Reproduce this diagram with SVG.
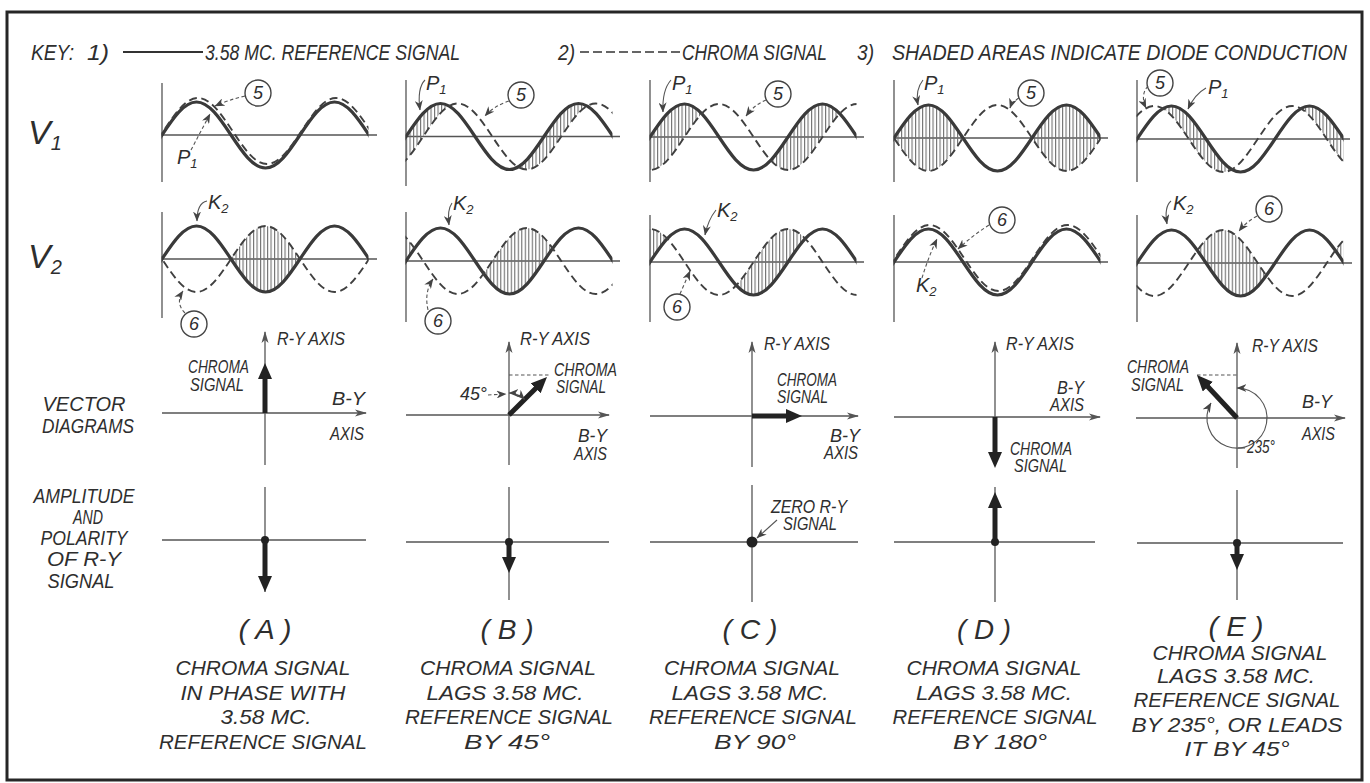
<svg xmlns="http://www.w3.org/2000/svg" width="1370" height="783" viewBox="0 0 1370 783">
<style>
text{font-family:"Liberation Sans Narrow","Liberation Sans",Arial,sans-serif;font-style:italic;fill:#2e2e2e}
.k{font-size:22px}
.lb{font-size:18px}
.bt{font-size:21px}
.par{font-size:28px}
.big{font-size:34px}
.lab{font-size:20px}
.num{font-size:18px;text-anchor:middle}
.ax{stroke:#555;stroke-width:1.3;fill:none}
.sol{stroke:#3a3a3a;stroke-width:3.2;fill:none}
.dsh{stroke:#404040;stroke-width:1.9;fill:none;stroke-dasharray:8 4.5}
.ld{stroke:#555;stroke-width:1.1;fill:none;stroke-dasharray:3.5 2.5}
.lds{stroke:#555;stroke-width:1.1;fill:none}
.cir{stroke:#444;stroke-width:1.4;fill:#fff}
.thk{stroke:#222;stroke-width:5;fill:none}
.hat{fill:url(#h)}
.m{text-anchor:middle}
</style>
<defs>
<path id="w" d="M-138,0 c11.25,-16.9 22.01,-33 34.5,-33 c12.49,0 23.25,16.1 34.5,33 c11.25,16.9 22.01,33 34.5,33 c12.49,0 23.25,-16.1 34.5,-33 c11.25,-16.9 22.01,-33 34.5,-33 c12.49,0 23.25,16.1 34.5,33 c11.25,16.9 22.01,33 34.5,33 c12.49,0 23.25,-16.1 34.5,-33 c11.25,-16.9 22.01,-33 34.5,-33 c12.49,0 23.25,16.1 34.5,33 c11.25,16.9 22.01,33 34.5,33 c12.49,0 23.25,-16.1 34.5,-33 c11.25,-16.9 22.01,-33 34.5,-33 c12.49,0 23.25,16.1 34.5,33"/>
<path id="wa" d="M-138,0 c11.25,-16.9 22.01,-33 34.5,-33 c12.49,0 23.25,16.1 34.5,33 c11.25,16.9 22.01,33 34.5,33 c12.49,0 23.25,-16.1 34.5,-33 c11.25,-16.9 22.01,-33 34.5,-33 c12.49,0 23.25,16.1 34.5,33 c11.25,16.9 22.01,33 34.5,33 c12.49,0 23.25,-16.1 34.5,-33 c11.25,-16.9 22.01,-33 34.5,-33 c12.49,0 23.25,16.1 34.5,33 c11.25,16.9 22.01,33 34.5,33 c12.49,0 23.25,-16.1 34.5,-33 c11.25,-16.9 22.01,-33 34.5,-33 c12.49,0 23.25,16.1 34.5,33 L345,-150 L-138,-150 Z"/>
<path id="wb" d="M-138,0 c11.25,-16.9 22.01,-33 34.5,-33 c12.49,0 23.25,16.1 34.5,33 c11.25,16.9 22.01,33 34.5,33 c12.49,0 23.25,-16.1 34.5,-33 c11.25,-16.9 22.01,-33 34.5,-33 c12.49,0 23.25,16.1 34.5,33 c11.25,16.9 22.01,33 34.5,33 c12.49,0 23.25,-16.1 34.5,-33 c11.25,-16.9 22.01,-33 34.5,-33 c12.49,0 23.25,16.1 34.5,33 c11.25,16.9 22.01,33 34.5,33 c12.49,0 23.25,-16.1 34.5,-33 c11.25,-16.9 22.01,-33 34.5,-33 c12.49,0 23.25,16.1 34.5,33 L345,150 L-138,150 Z"/>
<pattern id="h" width="3.5" height="20" patternUnits="userSpaceOnUse"><rect x="0" y="0" width="1.1" height="20" fill="#6f6f6f"/></pattern>
<marker id="la" viewBox="0 0 10 8" refX="9.5" refY="4" markerWidth="10" markerHeight="8" markerUnits="userSpaceOnUse" orient="auto"><path d="M0,0 L10,4 L0,8 L3,4 Z" fill="#444"/></marker>
<marker id="la2" viewBox="0 0 10 8" refX="9.5" refY="4" markerWidth="10" markerHeight="8" markerUnits="userSpaceOnUse" orient="auto-start-reverse"><path d="M0,0 L10,4 L0,8 L3,4 Z" fill="#444"/></marker>
<marker id="xa" viewBox="0 0 12 8" refX="11" refY="4" markerWidth="12" markerHeight="8" markerUnits="userSpaceOnUse" orient="auto"><path d="M0,0.5 L12,4 L0,7.5 L3,4 Z" fill="#555"/></marker>
<marker id="ta" viewBox="0 0 16 14" refX="2" refY="7" markerWidth="16" markerHeight="14" markerUnits="userSpaceOnUse" orient="auto"><path d="M0,0 L16,7 L0,14 Z" fill="#222"/></marker>
<clipPath id="cA"><rect x="161.5" y="70" width="207" height="260"/></clipPath>
<clipPath id="cB"><rect x="405.5" y="70" width="207" height="260"/></clipPath>
<clipPath id="cC"><rect x="649.5" y="70" width="207" height="260"/></clipPath>
<clipPath id="cD"><rect x="893.5" y="70" width="207" height="260"/></clipPath>
<clipPath id="cE"><rect x="1136.5" y="70" width="207" height="260"/></clipPath>
<clipPath id="b1"><use href="#wa" transform="translate(423.25,136.5)"/></clipPath>
<clipPath id="c1"><use href="#wa" transform="translate(684.5,137)"/></clipPath>
<clipPath id="d1"><use href="#wa" transform="translate(963,138)"/></clipPath>
<clipPath id="e1"><use href="#wa" transform="translate(1119.75,139)"/></clipPath>
<clipPath id="a2"><use href="#wa" transform="translate(162,259)"/></clipPath>
<clipPath id="b2"><use href="#wa" transform="translate(406,261)"/></clipPath>
<clipPath id="c2"><use href="#wa" transform="translate(650,262)"/></clipPath>
<clipPath id="e2"><use href="#wa" transform="translate(1137,263)"/></clipPath>
</defs>
<rect width="1370" height="783" fill="#fff"/>
<rect x="7" y="12" width="1355" height="768" fill="none" stroke="#262626" stroke-width="3"/>

<g id="key">
<text class="k" x="31" y="60" textLength="43" lengthAdjust="spacingAndGlyphs">KEY:</text>
<text class="k" x="87" y="60" textLength="22" lengthAdjust="spacingAndGlyphs">1)</text>
<line x1="123" y1="52" x2="203" y2="52" stroke="#333" stroke-width="2"/>
<text class="k" x="205" y="60" textLength="255" lengthAdjust="spacingAndGlyphs">3.58 MC. REFERENCE  SIGNAL</text>
<text class="k" x="558" y="60" textLength="17" lengthAdjust="spacingAndGlyphs">2)</text>
<line x1="580" y1="52" x2="680" y2="52" stroke="#333" stroke-width="1.7" stroke-dasharray="9 4"/>
<text class="k" x="682" y="60" textLength="145" lengthAdjust="spacingAndGlyphs">CHROMA  SIGNAL</text>
<text class="k" x="857" y="60" textLength="17" lengthAdjust="spacingAndGlyphs">3)</text>
<text class="k" x="892" y="60" textLength="455" lengthAdjust="spacingAndGlyphs">SHADED  AREAS  INDICATE  DIODE  CONDUCTION</text>
</g>

<g id="rowlabels">
<text class="big" x="28" y="144">V<tspan font-size="20" dy="6">1</tspan></text>
<text class="big" x="28" y="268">V<tspan font-size="20" dy="6">2</tspan></text>
<text class="bt m" x="84" y="411" textLength="83" lengthAdjust="spacingAndGlyphs">VECTOR</text>
<text class="bt m" x="88" y="433" textLength="92" lengthAdjust="spacingAndGlyphs">DIAGRAMS</text>
<text class="bt m" x="84" y="503" textLength="101" lengthAdjust="spacingAndGlyphs">AMPLITUDE</text>
<text class="bt m" x="88" y="524" textLength="30" lengthAdjust="spacingAndGlyphs">AND</text>
<text class="bt m" x="84" y="545" textLength="87" lengthAdjust="spacingAndGlyphs">POLARITY</text>
<text class="bt m" x="84" y="566" textLength="74" lengthAdjust="spacingAndGlyphs">OF  R-Y</text>
<text class="bt m" x="81" y="588" textLength="67" lengthAdjust="spacingAndGlyphs">SIGNAL</text>
</g>

<g id="waveA">
<line class="ax" x1="162" y1="83" x2="162" y2="182"/>
<line class="ax" x1="162" y1="135" x2="377" y2="135"/>
<line class="ax" x1="162" y1="212" x2="162" y2="318"/>
<line class="ax" x1="162" y1="259" x2="377" y2="259"/>
<g clip-path="url(#cA)">
<g clip-path="url(#a2)"><use href="#wa" class="hat" transform="translate(162,259) scale(1,-1)"/></g>
<use href="#w" class="sol" transform="translate(162,135)"/>
<use href="#w" class="dsh" transform="translate(163.5,131)"/>
<use href="#w" class="sol" transform="translate(162,259)"/>
<use href="#w" class="dsh" transform="translate(162,259) scale(1,-1)"/>
</g>
<text class="lab" x="177" y="164">P<tspan font-size="13" dy="4">1</tspan></text>
<text class="lab" x="208" y="209">K<tspan font-size="13" dy="4">2</tspan></text>
</g>
<g id="c5A"><circle class="cir" cx="258" cy="93" r="13"/><text class="num" x="258" y="99">5</text></g>
<g id="c6A"><circle class="cir" cx="194" cy="324" r="13"/><text class="num" x="194" y="330">6</text></g>

<g id="waveB">
<line class="ax" x1="406" y1="80" x2="406" y2="186"/>
<line class="ax" x1="406" y1="136.5" x2="620" y2="136.5"/>
<line class="ax" x1="406" y1="212" x2="406" y2="322"/>
<line class="ax" x1="406" y1="261" x2="620" y2="261"/>
<g clip-path="url(#cB)">
<g clip-path="url(#b1)"><use href="#wb" class="hat" transform="translate(406,136.5)"/></g>
<g clip-path="url(#b2)"><use href="#wa" class="hat" transform="translate(423.25,261) scale(1,-1)"/></g>
<use href="#w" class="sol" transform="translate(406,136.5)"/>
<use href="#w" class="dsh" transform="translate(423.25,136.5)"/>
<use href="#w" class="sol" transform="translate(406,261)"/>
<use href="#w" class="dsh" transform="translate(423.25,261) scale(1,-1)"/>
</g>
<text class="lab" x="426" y="90">P<tspan font-size="13" dy="4">1</tspan></text>
<text class="lab" x="453" y="210">K<tspan font-size="13" dy="4">2</tspan></text>
</g>
<g id="c5B"><circle class="cir" cx="521" cy="95" r="13"/><text class="num" x="521" y="101">5</text></g>
<g id="c6B"><circle class="cir" cx="438" cy="321" r="13"/><text class="num" x="438" y="327">6</text></g>

<g id="waveC">
<line class="ax" x1="650" y1="80" x2="650" y2="182"/>
<line class="ax" x1="650" y1="137" x2="864" y2="137"/>
<line class="ax" x1="650" y1="215" x2="650" y2="322"/>
<line class="ax" x1="650" y1="262" x2="864" y2="262"/>
<g clip-path="url(#cC)">
<g clip-path="url(#c1)"><use href="#wb" class="hat" transform="translate(650,137)"/></g>
<g clip-path="url(#c2)"><use href="#wa" class="hat" transform="translate(684.5,262) scale(1,-1)"/></g>
<use href="#w" class="sol" transform="translate(650,137)"/>
<use href="#w" class="dsh" transform="translate(684.5,137)"/>
<use href="#w" class="sol" transform="translate(650,262)"/>
<use href="#w" class="dsh" transform="translate(684.5,262) scale(1,-1)"/>
</g>
<text class="lab" x="672" y="90">P<tspan font-size="13" dy="4">1</tspan></text>
<text class="lab" x="717" y="217">K<tspan font-size="13" dy="4">2</tspan></text>
</g>
<g id="c5C"><circle class="cir" cx="778" cy="94" r="13"/><text class="num" x="778" y="100">5</text></g>
<g id="c6C"><circle class="cir" cx="677" cy="307" r="13"/><text class="num" x="677" y="313">6</text></g>

<g id="waveD">
<line class="ax" x1="894" y1="80" x2="894" y2="182"/>
<line class="ax" x1="894" y1="138" x2="1108" y2="138"/>
<line class="ax" x1="894" y1="215" x2="894" y2="322"/>
<line class="ax" x1="894" y1="262" x2="1108" y2="262"/>
<g clip-path="url(#cD)">
<g clip-path="url(#d1)"><use href="#wb" class="hat" transform="translate(894,138)"/></g>
<use href="#w" class="sol" transform="translate(894,138)"/>
<use href="#w" class="dsh" transform="translate(963,138)"/>
<use href="#w" class="sol" transform="translate(894,262)"/>
<use href="#w" class="dsh" transform="translate(895,258)"/>
</g>
<text class="lab" x="924" y="90">P<tspan font-size="13" dy="4">1</tspan></text>
<text class="lab" x="916" y="292">K<tspan font-size="13" dy="4">2</tspan></text>
</g>
<g id="c5D"><circle class="cir" cx="1031" cy="93" r="13"/><text class="num" x="1031" y="99">5</text></g>
<g id="c6D"><circle class="cir" cx="1002" cy="220" r="13"/><text class="num" x="1002" y="226">6</text></g>

<g id="waveE">
<line class="ax" x1="1137" y1="80" x2="1137" y2="182"/>
<line class="ax" x1="1137" y1="139" x2="1350" y2="139"/>
<line class="ax" x1="1137" y1="215" x2="1137" y2="322"/>
<line class="ax" x1="1137" y1="263" x2="1352" y2="263"/>
<g clip-path="url(#cE)">
<g clip-path="url(#e1)"><use href="#wb" class="hat" transform="translate(1137,139)"/></g>
<g clip-path="url(#e2)"><use href="#wa" class="hat" transform="translate(1119.75,263) scale(1,-1)"/></g>
<use href="#w" class="sol" transform="translate(1137,139)"/>
<use href="#w" class="dsh" transform="translate(1119.75,139)"/>
<use href="#w" class="sol" transform="translate(1137,263)"/>
<use href="#w" class="dsh" transform="translate(1119.75,263) scale(1,-1)"/>
</g>
<text class="lab" x="1208" y="94">P<tspan font-size="13" dy="4">1</tspan></text>
<text class="lab" x="1173" y="210">K<tspan font-size="13" dy="4">2</tspan></text>
</g>
<g id="c5E"><circle class="cir" cx="1160" cy="83" r="13"/><text class="num" x="1160" y="89">5</text></g>
<g id="c6E"><circle class="cir" cx="1269" cy="209" r="13"/><text class="num" x="1269" y="215">6</text></g>

<g id="vecA">
<line class="ax" x1="162" y1="413" x2="366" y2="413" marker-end="url(#xa)"/>
<line class="ax" x1="265" y1="465" x2="265" y2="332" marker-end="url(#xa)"/>
<line class="thk" x1="265" y1="413" x2="265" y2="377" marker-end="url(#ta)"/>
<text class="lb" x="277" y="345" textLength="68" lengthAdjust="spacingAndGlyphs">R-Y AXIS</text>
<text class="lb" x="188" y="373" textLength="61" lengthAdjust="spacingAndGlyphs">CHROMA</text>
<text class="lb" x="190" y="391" textLength="54" lengthAdjust="spacingAndGlyphs">SIGNAL</text>
<text class="lb" x="332" y="405" textLength="33" lengthAdjust="spacingAndGlyphs">B-Y</text>
<text class="lb" x="330" y="440" textLength="34" lengthAdjust="spacingAndGlyphs">AXIS</text>
</g>
<g id="vecB">
<line class="ax" x1="406" y1="415" x2="609" y2="415" marker-end="url(#xa)"/>
<line class="ax" x1="509" y1="465" x2="509" y2="342" marker-end="url(#xa)"/>
<line class="ld" x1="509" y1="375" x2="549" y2="375"/>
<line class="thk" x1="509" y1="415" x2="537.1" y2="386.9" marker-end="url(#ta)"/>
<path class="lds" d="M509,393 A22,22 0 0 1 524.6,399.4" marker-start="url(#la2)" marker-end="url(#la2)"/>
<text class="lb" x="520" y="345" textLength="70" lengthAdjust="spacingAndGlyphs">R-Y AXIS</text>
<text class="lb" x="554" y="376" textLength="63" lengthAdjust="spacingAndGlyphs">CHROMA</text>
<text class="lb" x="556" y="393" textLength="50" lengthAdjust="spacingAndGlyphs">SIGNAL</text>
<text class="lb" x="460" y="400" textLength="27" lengthAdjust="spacingAndGlyphs">45°</text>
<text class="lb" x="578" y="442" textLength="29" lengthAdjust="spacingAndGlyphs">B-Y</text>
<text class="lb" x="574" y="460" textLength="33" lengthAdjust="spacingAndGlyphs">AXIS</text>
</g>
<g id="vecC">
<line class="ax" x1="650" y1="416" x2="858" y2="416" marker-end="url(#xa)"/>
<line class="ax" x1="752" y1="467" x2="752" y2="342" marker-end="url(#xa)"/>
<line class="thk" x1="752" y1="416" x2="788" y2="416" marker-end="url(#ta)"/>
<text class="lb" x="764" y="350" textLength="66" lengthAdjust="spacingAndGlyphs">R-Y AXIS</text>
<text class="lb" x="777" y="386" textLength="60" lengthAdjust="spacingAndGlyphs">CHROMA</text>
<text class="lb" x="777" y="403" textLength="51" lengthAdjust="spacingAndGlyphs">SIGNAL</text>
<text class="lb" x="830" y="442" textLength="30" lengthAdjust="spacingAndGlyphs">B-Y</text>
<text class="lb" x="824" y="459" textLength="34" lengthAdjust="spacingAndGlyphs">AXIS</text>
</g>
<g id="vecD">
<line class="ax" x1="894" y1="417" x2="1100" y2="417" marker-end="url(#xa)"/>
<line class="ax" x1="995" y1="417" x2="995" y2="342" marker-end="url(#xa)"/>
<line class="thk" x1="995" y1="417" x2="995" y2="454" marker-end="url(#ta)"/>
<text class="lb" x="1006" y="350" textLength="68" lengthAdjust="spacingAndGlyphs">R-Y AXIS</text>
<text class="lb" x="1057" y="394" textLength="27" lengthAdjust="spacingAndGlyphs">B-Y</text>
<text class="lb" x="1050" y="411" textLength="34" lengthAdjust="spacingAndGlyphs">AXIS</text>
<text class="lb" x="1010" y="455" textLength="62" lengthAdjust="spacingAndGlyphs">CHROMA</text>
<text class="lb" x="1014" y="472" textLength="53" lengthAdjust="spacingAndGlyphs">SIGNAL</text>
</g>
<g id="vecE">
<line class="ax" x1="1136" y1="418" x2="1345" y2="418" marker-end="url(#xa)"/>
<line class="ax" x1="1237" y1="468" x2="1237" y2="343" marker-end="url(#xa)"/>
<line class="ld" x1="1197" y1="375" x2="1237" y2="375"/>
<line class="thk" x1="1237" y1="418" x2="1206.5" y2="385.3" marker-end="url(#ta)"/>
<path class="lds" d="M1237,388 A30,30 0 1 1 1211,403" marker-start="url(#la2)" marker-end="url(#la2)"/>
<line class="lds" x1="1238" y1="448" x2="1245" y2="448"/>
<text class="lb" x="1252" y="352" textLength="66" lengthAdjust="spacingAndGlyphs">R-Y AXIS</text>
<text class="lb" x="1127" y="373" textLength="62" lengthAdjust="spacingAndGlyphs">CHROMA</text>
<text class="lb" x="1131" y="391" textLength="53" lengthAdjust="spacingAndGlyphs">SIGNAL</text>
<text class="lb" x="1302" y="408" textLength="30" lengthAdjust="spacingAndGlyphs">B-Y</text>
<text class="lb" x="1302" y="440" textLength="33" lengthAdjust="spacingAndGlyphs">AXIS</text>
<text class="lb" x="1247" y="453" textLength="28" lengthAdjust="spacingAndGlyphs">235°</text>
</g>

<g id="ampA">
<line class="ax" x1="162" y1="540" x2="366" y2="540"/>
<line class="ax" x1="265" y1="487" x2="265" y2="592"/>
<circle cx="265" cy="540" r="4" fill="#222"/>
<line class="thk" x1="265" y1="540" x2="265" y2="578" marker-end="url(#ta)"/>
</g>
<g id="ampB">
<line class="ax" x1="406" y1="542" x2="609" y2="542"/>
<line class="ax" x1="509" y1="487" x2="509" y2="600"/>
<circle cx="509" cy="542" r="4" fill="#222"/>
<line class="thk" x1="509" y1="542" x2="509" y2="559" marker-end="url(#ta)"/>
</g>
<g id="ampC">
<line class="ax" x1="650" y1="542" x2="858" y2="542"/>
<line class="ax" x1="752" y1="485" x2="752" y2="602"/>
<circle cx="752" cy="542" r="5.5" fill="#222"/>
<text class="lb" x="771" y="513" textLength="76" lengthAdjust="spacingAndGlyphs">ZERO R-Y</text>
<text class="lb" x="783" y="530" textLength="54" lengthAdjust="spacingAndGlyphs">SIGNAL</text>
</g>
<g id="ampD">
<line class="ax" x1="894" y1="542" x2="1095" y2="542"/>
<line class="ax" x1="995" y1="487" x2="995" y2="602"/>
<circle cx="995" cy="542" r="4" fill="#222"/>
<line class="thk" x1="995" y1="542" x2="995" y2="506" marker-end="url(#ta)"/>
</g>
<g id="ampE">
<line class="ax" x1="1137" y1="543" x2="1343" y2="543"/>
<line class="ax" x1="1237" y1="490" x2="1237" y2="600"/>
<circle cx="1237" cy="543" r="4" fill="#222"/>
<line class="thk" x1="1237" y1="543" x2="1237" y2="556" marker-end="url(#ta)"/>
</g>

<g id="capA">
<text class="par m" x="265" y="639" textLength="53" lengthAdjust="spacingAndGlyphs">( A )</text>
<text class="bt m" x="263" y="675" textLength="175" lengthAdjust="spacingAndGlyphs">CHROMA  SIGNAL</text>
<text class="bt m" x="263" y="700" textLength="165" lengthAdjust="spacingAndGlyphs">IN  PHASE  WITH</text>
<text class="bt m" x="266" y="724" textLength="91" lengthAdjust="spacingAndGlyphs">3.58 MC.</text>
<text class="bt m" x="263" y="749" textLength="208" lengthAdjust="spacingAndGlyphs">REFERENCE  SIGNAL</text>
</g>
<g id="capB">
<text class="par m" x="507" y="639" textLength="53" lengthAdjust="spacingAndGlyphs">( B )</text>
<text class="bt m" x="508" y="675" textLength="176" lengthAdjust="spacingAndGlyphs">CHROMA  SIGNAL</text>
<text class="bt m" x="505" y="700" textLength="157" lengthAdjust="spacingAndGlyphs">LAGS  3.58 MC.</text>
<text class="bt m" x="509" y="724" textLength="208" lengthAdjust="spacingAndGlyphs">REFERENCE  SIGNAL</text>
<text class="bt m" x="507" y="749" textLength="86" lengthAdjust="spacingAndGlyphs">BY  45°</text>
</g>
<g id="capC">
<text class="par m" x="750" y="639" textLength="55" lengthAdjust="spacingAndGlyphs">( C )</text>
<text class="bt m" x="752" y="675" textLength="176" lengthAdjust="spacingAndGlyphs">CHROMA  SIGNAL</text>
<text class="bt m" x="750" y="700" textLength="157" lengthAdjust="spacingAndGlyphs">LAGS  3.58 MC.</text>
<text class="bt m" x="753" y="724" textLength="208" lengthAdjust="spacingAndGlyphs">REFERENCE  SIGNAL</text>
<text class="bt m" x="755" y="749" textLength="82" lengthAdjust="spacingAndGlyphs">BY  90°</text>
</g>
<g id="capD">
<text class="par m" x="984" y="639" textLength="54" lengthAdjust="spacingAndGlyphs">( D )</text>
<text class="bt m" x="994" y="675" textLength="175" lengthAdjust="spacingAndGlyphs">CHROMA  SIGNAL</text>
<text class="bt m" x="994" y="700" textLength="156" lengthAdjust="spacingAndGlyphs">LAGS  3.58 MC.</text>
<text class="bt m" x="995" y="724" textLength="205" lengthAdjust="spacingAndGlyphs">REFERENCE  SIGNAL</text>
<text class="bt m" x="1000" y="749" textLength="94" lengthAdjust="spacingAndGlyphs">BY  180°</text>
</g>
<g id="capE">
<text class="par m" x="1236" y="636" textLength="55" lengthAdjust="spacingAndGlyphs">( E )</text>
<text class="bt m" x="1240" y="660" textLength="175" lengthAdjust="spacingAndGlyphs">CHROMA  SIGNAL</text>
<text class="bt m" x="1236" y="683" textLength="158" lengthAdjust="spacingAndGlyphs">LAGS  3.58 MC.</text>
<text class="bt m" x="1237" y="707" textLength="207" lengthAdjust="spacingAndGlyphs">REFERENCE  SIGNAL</text>
<text class="bt m" x="1237" y="732" textLength="211" lengthAdjust="spacingAndGlyphs">BY  235°,  OR  LEADS</text>
<text class="bt m" x="1237" y="756" textLength="105" lengthAdjust="spacingAndGlyphs">IT  BY  45°</text>
</g>

<g id="connectors">
<path class="ld" d="M245,96 Q228,100 215,106" marker-end="url(#la)"/>
<path class="ld" d="M191,150 L210,114" marker-end="url(#la)"/>
<path class="lds" d="M207,201 Q197,203 197,221" marker-end="url(#la)"/>
<path class="ld" d="M185,313 Q175,303 183,291" marker-end="url(#la)"/>
<path class="lds" d="M425,80 Q417,88 420,110" marker-end="url(#la)"/>
<path class="ld" d="M509,101 Q494,106 485,116" marker-end="url(#la)"/>
<path class="lds" d="M452,203 Q447,210 449,225" marker-end="url(#la)"/>
<path class="ld" d="M428,310 Q424,292 433,279" marker-end="url(#la)"/>
<path class="lds" d="M671,80 Q662,90 663,112" marker-end="url(#la)"/>
<path class="ld" d="M766,100 Q754,105 746,116" marker-end="url(#la)"/>
<path class="lds" d="M716,210 Q708,220 705,235" marker-end="url(#la)"/>
<path class="ld" d="M680,294 L690,271" marker-end="url(#la)"/>
<path class="lds" d="M923,80 Q915,90 918,105" marker-end="url(#la)"/>
<path class="ld" d="M1019,98 Q1012,102 1010,108" marker-end="url(#la)"/>
<path class="ld" d="M989,225 Q972,236 958,249" marker-end="url(#la)"/>
<path class="ld" d="M922,278 Q928,258 937,239" marker-end="url(#la)"/>
<path class="ld" d="M1148,86 Q1140,95 1146,108" marker-end="url(#la)"/>
<path class="lds" d="M1206,88 Q1195,94 1188,109" marker-end="url(#la)"/>
<path class="lds" d="M1171,201 Q1164,207 1167,224" marker-end="url(#la)"/>
<path class="ld" d="M1257,216 Q1246,222 1239,231" marker-end="url(#la)"/>
<path class="ld" d="M488,395 L506,394" marker-end="url(#la)"/>
<path class="lds" d="M777,520 L757,538" marker-end="url(#la)"/>
</g>
</svg>
